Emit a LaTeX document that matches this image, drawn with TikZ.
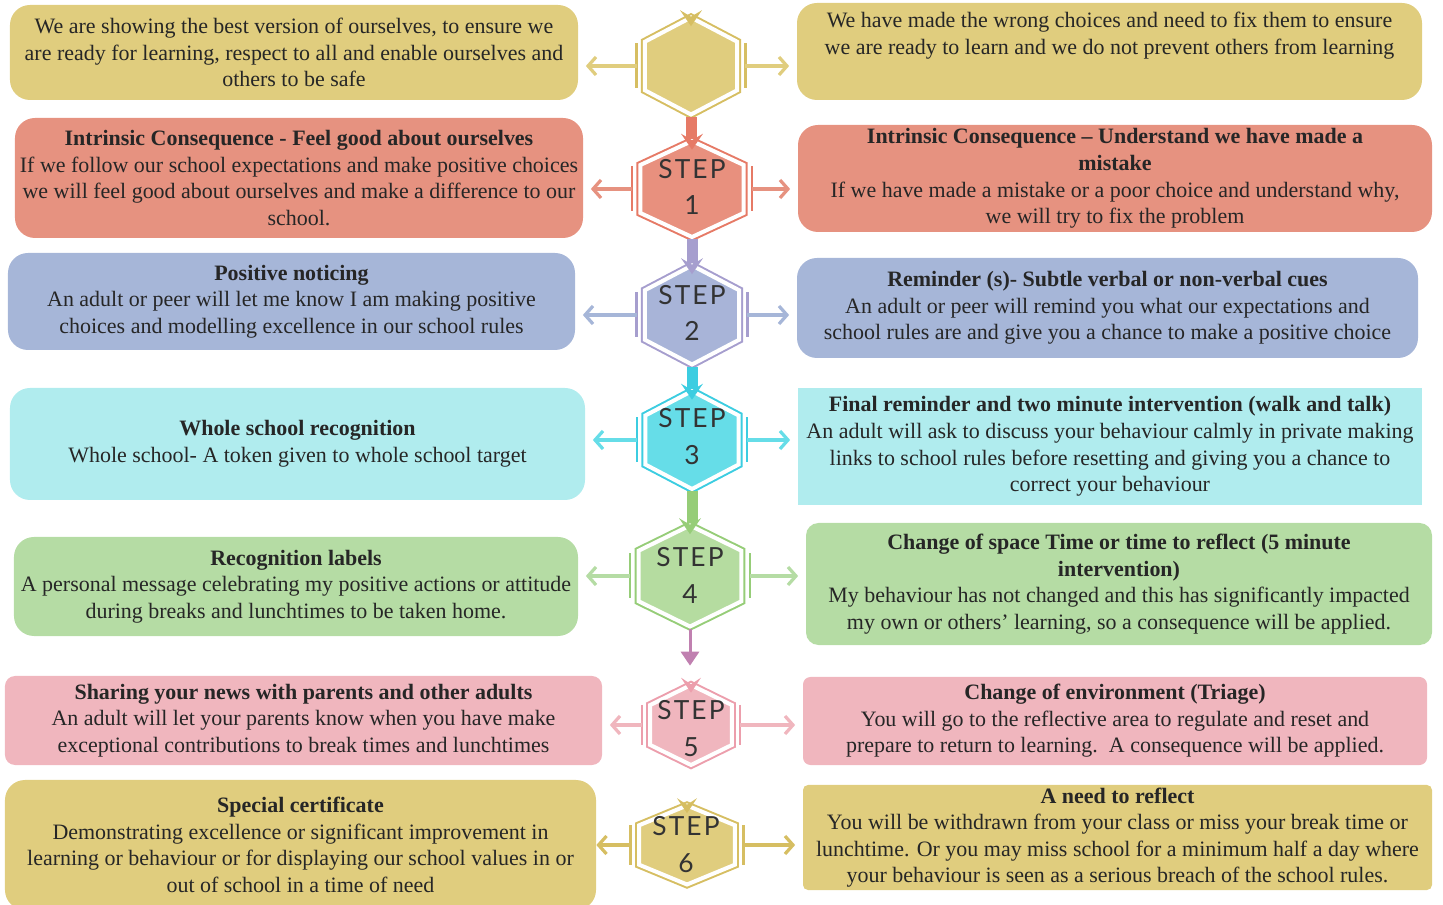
\documentclass[tikz,border=0pt]{standalone}
\usepackage{fontspec}
\setmainfont{Liberation Serif}
\newfontfamily\stepfont{Lato}[LetterSpace=8]
\usetikzlibrary{arrows.meta,%
                shapes,positioning}
\definecolor{yelbox}{RGB}{224,205,126}
\definecolor{yeldark}{RGB}{214,190,98}
\definecolor{redbox}{RGB}{230,146,128}
\definecolor{redhex}{RGB}{232,144,126}
\definecolor{reddark}{RGB}{230,122,102}
\definecolor{bluebox}{RGB}{166,182,216}
\definecolor{bluehex}{RGB}{168,180,216}
\definecolor{bluedark}{RGB}{166,158,206}
\definecolor{cyanbox}{RGB}{176,236,238}
\definecolor{cyanhex}{RGB}{102,221,232}
\definecolor{cyandark}{RGB}{60,205,225}
\definecolor{greenbox}{RGB}{181,220,164}
\definecolor{greenhex}{RGB}{181,220,160}
\definecolor{greendark}{RGB}{150,205,120}
\definecolor{pinkbox}{RGB}{240,182,190}
\definecolor{pinkdark}{RGB}{236,158,172}
\definecolor{purpline}{RGB}{192,128,176}

\begin{document}
\begin{tikzpicture}[x = 0.2mm, y = -0.2mm]
  \useasboundingbox (0,0) rectangle (1443,905);
  \clip (0,0) rectangle (1443,905);
  \tikzset{BoxStyle/.style  = {rounded corners = 4mm,
                               inner sep       = 0pt,
                               align           = center,
                               text            = black!85,
                               font            = \fontsize{12.5}{15.1}\selectfont}}
  \tikzset{HexStyle/.style 2 args = {shape                = regular polygon,
                               regular polygon sides = 6,
                               shape border rotate   = 30,
                               inner sep             = 0pt,
                               xscale                = 1.1,
                               fill                  = #1,
                               draw                  = white,
                               line width            = 0.8mm,
                               preaction             = {draw = #2, line width = 1.6mm}}}
  \tikzset{StepStyle/.style = {align           = center,
                               text            = black!80,
                               font            = \stepfont\fontsize{15}{21}\selectfont}}
  \tikzset{SideArrow/.style = {line width      = 0.65mm,
                               shorten >=1.5mm,
                               -{Straight Barb[length=1.6mm,width=3.6mm]}}}
  \tikzset{BarStyle/.style  = {line width      = 0.5mm}}
  \tikzset{LinkStyle/.style = {line width      = 2.2mm}}
  % left column
  \node[BoxStyle, fill=yelbox, minimum width=113.6mm, minimum height=19mm] (L0) at (294,52.5)
    {We are showing the best version of ourselves, to ensure we\\are ready for learning, respect to all and enable ourselves and\\others to be safe};
  \node[BoxStyle, fill=redbox, minimum width=113.6mm, minimum height=24mm] (L1) at (299,178)
    {\textbf{Intrinsic Consequence - Feel good about ourselves}\\If we follow our school expectations and make positive choices\\we will feel good about ourselves and make a difference to our\\school.};
  \node[BoxStyle, fill=bluebox, minimum width=113.4mm, minimum height=19.4mm] (L2) at (291.5,301.5)
    {\textbf{Positive noticing}\\An adult or peer will let me know I am making positive\\choices and modelling excellence in our school rules};
  \node[BoxStyle, fill=cyanbox, minimum width=115mm, minimum height=22.4mm] (L3) at (297.5,444)
    {\textbf{Whole school recognition}\\Whole school- A token given to whole school target};
  \node[BoxStyle, fill=greenbox, minimum width=112.8mm, minimum height=19.8mm] (L4) at (296,586.5)
    {\textbf{Recognition labels}\\A personal message celebrating my positive actions or attitude\\during breaks and lunchtimes to be taken home.};
  \node[BoxStyle, fill=pinkbox, rounded corners=2mm, minimum width=119.4mm, minimum height=17.8mm] (L5) at (303.5,720.5)
    {\textbf{Sharing your news with parents and other adults}\\An adult will let your parents know when you have make\\exceptional contributions to break times and lunchtimes};
  \node[BoxStyle, fill=yelbox, minimum width=118.2mm, minimum height=26mm] (L6) at (300.5,845)
    {\textbf{Special certificate}\\Demonstrating excellence or significant improvement in\\learning or behaviour or for displaying our school values in or\\out of school in a time of need};
  % right column
  \node[BoxStyle, fill=yelbox, minimum width=125mm, minimum height=19.4mm] (R0) at (1109.5,51.5)
    {We have made the wrong choices and need to fix them to ensure\\we are ready to learn and we do not prevent others from learning\\[2mm]~};
  \node[BoxStyle, fill=redbox, minimum width=126.8mm, minimum height=21.4mm] (R1) at (1115,178.5)
    {\textbf{Intrinsic Consequence -- Understand we have made a}\\\textbf{mistake}\\If we have made a mistake or a poor choice and understand why,\\we will try to fix the problem};
  \node[BoxStyle, fill=bluebox, minimum width=124.2mm, minimum height=20mm] (R2) at (1107.5,308)
    {\textbf{Reminder (s)- Subtle verbal or non-verbal cues}\\An adult or peer will remind you what our expectations and\\school rules are and give you a chance to make a positive choice};
  \node[BoxStyle, fill=cyanbox, sharp corners, minimum width=124.8mm, minimum height=23.4mm] (R3) at (1110,446.5)
    {\textbf{Final reminder and two minute intervention (walk and talk)}\\An adult will ask to discuss your behaviour calmly in private making\\links to school rules before resetting and giving you a chance to\\correct your behaviour};
  \node[BoxStyle, fill=greenbox, rounded corners=2.5mm, minimum width=125.2mm, minimum height=24.4mm] (R4) at (1119,584)
    {\textbf{Change of space Time or time to reflect (5 minute}\\\textbf{intervention)}\\My behaviour has not changed and this has significantly impacted\\my own or others' learning, so a consequence will be applied.};
  \node[BoxStyle, fill=pinkbox, rounded corners=1.5mm, minimum width=124.8mm, minimum height=17.6mm] (R5) at (1115,721)
    {\textbf{Change of environment (Triage)}\\You will go to the reflective area to regulate and reset and\\prepare to return to learning.\ \ A consequence will be applied.};
  \node[BoxStyle, fill=yelbox, rounded corners=1mm, minimum width=125.8mm, minimum height=21mm] (R6) at (1117.5,837.5)
    {\textbf{A need to reflect}\\You will be withdrawn from your class or miss your break time or\\lunchtime. Or you may miss school for a minimum half a day where\\your behaviour is seen as a serious breach of the school rules.};
  % step hexagons
  \node[HexStyle={yelbox}{yeldark}, minimum size=19.4mm] (S0) at (691,66) {};
  \node[HexStyle={redhex}{reddark}, minimum size=19.2mm, xscale=1.13] (S1) at (692,189) {};
  \node[HexStyle={bluehex}{bluedark}, minimum size=19.8mm] (S2) at (692,315) {};
  \node[HexStyle={cyanhex}{cyandark}, minimum size=19.6mm] (S3) at (692,440) {};
  \node[HexStyle={greenhex}{greendark}, minimum size=20.2mm, xscale=1.07] (S4) at (690,576) {};
  \node[HexStyle={pinkbox}{pinkdark}, minimum size=16mm, xscale=1.07] (S5) at (691,725) {};
  \node[HexStyle={yelbox}{yeldark}, minimum size=15.8mm, xscale=1.27] (S6) at (687,845) {};
  % links between the steps
  \draw[LinkStyle, reddark]   (S0.south) -- (S0.south |- S1.north);
  \draw[LinkStyle, bluedark]  (S1.south) -- (S1.south |- S2.north);
  \draw[LinkStyle, cyandark]  (S2.south) -- (S2.south |- S3.north);
  \draw[LinkStyle, greendark] (S3.south) -- (S3.south |- S4.north);
  \draw[purpline, line width=0.6mm, shorten >=3.4mm,
        -{Triangle[width=3.6mm,length=2.8mm]}] (S4.south) -- (S4.south |- S5.north);
  % notches
  \fill[yeldark]   ([xshift=-2.2mm,yshift=1mm]S0.north) -- ([yshift=-0.3mm]S0.north) -- ([xshift=2.2mm,yshift=1mm]S0.north) -- ([yshift=-2.2mm]S0.north) -- cycle;
  \fill[reddark]   ([xshift=-2.2mm,yshift=1mm]S1.north) -- ([yshift=-0.3mm]S1.north) -- ([xshift=2.2mm,yshift=1mm]S1.north) -- ([yshift=-2.2mm]S1.north) -- cycle;
  \fill[bluedark]  ([xshift=-2.2mm,yshift=1mm]S2.north) -- ([yshift=-0.3mm]S2.north) -- ([xshift=2.2mm,yshift=1mm]S2.north) -- ([yshift=-2.2mm]S2.north) -- cycle;
  \fill[cyandark]  ([xshift=-2.2mm,yshift=1mm]S3.north) -- ([yshift=-0.3mm]S3.north) -- ([xshift=2.2mm,yshift=1mm]S3.north) -- ([yshift=-2.2mm]S3.north) -- cycle;
  \fill[greendark] ([xshift=-2.2mm,yshift=1mm]S4.north) -- ([yshift=-0.3mm]S4.north) -- ([xshift=2.2mm,yshift=1mm]S4.north) -- ([yshift=-2.2mm]S4.north) -- cycle;
  \fill[pinkdark]  ([xshift=-2mm,yshift=1mm]S5.north) -- ([yshift=-0.3mm]S5.north) -- ([xshift=2mm,yshift=1mm]S5.north) -- ([yshift=-2mm]S5.north) -- cycle;
  \fill[yeldark]   ([xshift=-2mm,yshift=1mm]S6.north) -- ([yshift=-0.3mm]S6.north) -- ([xshift=2mm,yshift=1mm]S6.north) -- ([yshift=-2mm]S6.north) -- cycle;
  % step labels
  \node[StepStyle] (T1) at (692,187) {STEP\\1};
  \node[StepStyle] (T2) at (692,313) {STEP\\2};
  \node[StepStyle] (T3) at (692,437) {STEP\\3};
  \node[StepStyle] (T4) at (690,575) {STEP\\4};
  \node[StepStyle] (T5) at (691,729) {STEP\\5};
  \node[StepStyle] (T6) at (686,845) {STEP\\6};
  % side bars
  \draw[BarStyle, yeldark]   ([xshift=-1.2mm,yshift=4.5mm]S0.west) -- ([xshift=-1.2mm,yshift=-4.5mm]S0.west);
  \draw[BarStyle, yeldark]   ([xshift=1.2mm,yshift=4.5mm]S0.east) -- ([xshift=1.2mm,yshift=-4.5mm]S0.east);
  \draw[BarStyle, reddark]   ([xshift=-1.2mm,yshift=4.5mm]S1.west) -- ([xshift=-1.2mm,yshift=-4.5mm]S1.west);
  \draw[BarStyle, reddark]   ([xshift=1.2mm,yshift=4.5mm]S1.east) -- ([xshift=1.2mm,yshift=-4.5mm]S1.east);
  \draw[BarStyle, bluedark]  ([xshift=-1.2mm,yshift=4.5mm]S2.west) -- ([xshift=-1.2mm,yshift=-4.5mm]S2.west);
  \draw[BarStyle, bluedark]  ([xshift=1.2mm,yshift=4.5mm]S2.east) -- ([xshift=1.2mm,yshift=-4.5mm]S2.east);
  \draw[BarStyle, cyandark]  ([xshift=-1.2mm,yshift=4.5mm]S3.west) -- ([xshift=-1.2mm,yshift=-4.5mm]S3.west);
  \draw[BarStyle, cyandark]  ([xshift=1.2mm,yshift=4.5mm]S3.east) -- ([xshift=1.2mm,yshift=-4.5mm]S3.east);
  \draw[BarStyle, greendark] ([xshift=-1.2mm,yshift=4.5mm]S4.west) -- ([xshift=-1.2mm,yshift=-4.5mm]S4.west);
  \draw[BarStyle, greendark] ([xshift=1.2mm,yshift=4.5mm]S4.east) -- ([xshift=1.2mm,yshift=-4.5mm]S4.east);
  \draw[BarStyle, pinkdark]  ([xshift=-1.2mm,yshift=4mm]S5.west) -- ([xshift=-1.2mm,yshift=-4mm]S5.west);
  \draw[BarStyle, pinkdark]  ([xshift=1.2mm,yshift=4mm]S5.east) -- ([xshift=1.2mm,yshift=-4mm]S5.east);
  \draw[BarStyle, yeldark]   ([xshift=-1.2mm,yshift=4mm]S6.west) -- ([xshift=-1.2mm,yshift=-4mm]S6.west);
  \draw[BarStyle, yeldark]   ([xshift=1.2mm,yshift=4mm]S6.east) -- ([xshift=1.2mm,yshift=-4mm]S6.east);
  % arrows to the boxes
  \draw[SideArrow, yelbox]   ([xshift=-1.2mm]S0.west) -- (S0.west -| L0.east);
  \draw[SideArrow, yelbox]   ([xshift=1.2mm]S0.east)  -- (S0.east -| R0.west);
  \draw[SideArrow, redbox]   ([xshift=-1.2mm]S1.west) -- (S1.west -| L1.east);
  \draw[SideArrow, redbox]   ([xshift=1.2mm]S1.east)  -- (S1.east -| R1.west);
  \draw[SideArrow, bluebox]  ([xshift=-1.2mm]S2.west) -- (S2.west -| L2.east);
  \draw[SideArrow, bluebox]  ([xshift=1.2mm]S2.east)  -- (S2.east -| R2.west);
  \draw[SideArrow, cyanhex]  ([xshift=-1.2mm]S3.west) -- (S3.west -| L3.east);
  \draw[SideArrow, cyanhex]  ([xshift=1.2mm]S3.east)  -- (S3.east -| R3.west);
  \draw[SideArrow, greenbox] ([xshift=-1.2mm]S4.west) -- (S4.west -| L4.east);
  \draw[SideArrow, greenbox] ([xshift=1.2mm]S4.east)  -- (S4.east -| R4.west);
  \draw[SideArrow, pinkbox]  ([xshift=-1.2mm]S5.west) -- (S5.west -| L5.east);
  \draw[SideArrow, pinkbox]  ([xshift=1.2mm]S5.east)  -- (S5.east -| R5.west);
  \draw[SideArrow, yeldark, shorten >=0mm] ([xshift=-1.2mm]S6.west) -- (S6.west -| L6.east);
  \draw[SideArrow, yeldark]  ([xshift=1.2mm]S6.east)  -- (S6.east -| R6.west);
\end{tikzpicture}
\end{document}
